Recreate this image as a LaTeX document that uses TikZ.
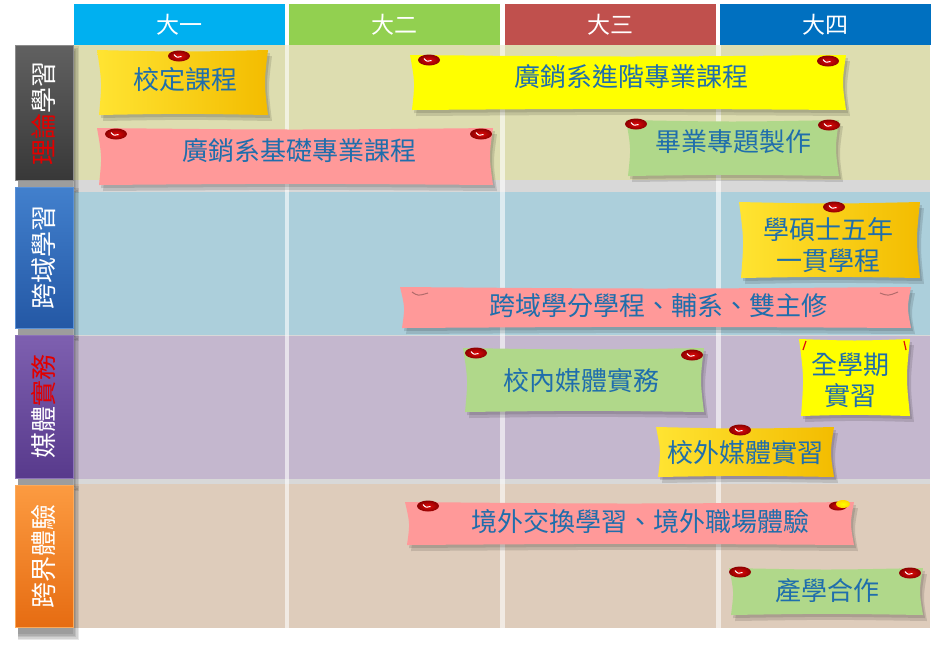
\documentclass[tikz,border=0pt]{standalone}
\usepackage{fontspec}
\newfontfamily\cjk{Noto Sans CJK TC}
\definecolor{hcyan}{RGB}{0,176,240}
\definecolor{hgreen}{RGB}{146,208,80}
\definecolor{hred}{RGB}{192,80,77}
\definecolor{hblue}{RGB}{0,112,192}
\definecolor{rowa}{RGB}{221,221,176}
\definecolor{rowb}{RGB}{172,207,219}
\definecolor{rowc}{RGB}{196,183,206}
\definecolor{rowd}{RGB}{222,204,187}
\definecolor{gapgray}{RGB}{216,216,216}
\definecolor{txtblue}{RGB}{31,110,172}
\definecolor{npink}{RGB}{255,153,153}
\definecolor{ngreen}{RGB}{176,216,138}
\definecolor{nyellow}{RGB}{255,255,0}
\definecolor{goldA}{RGB}{255,228,50}
\definecolor{goldB}{RGB}{243,188,0}
\definecolor{labred}{RGB}{225,0,0}
\definecolor{pinred}{RGB}{225,10,10}
\definecolor{pindark}{RGB}{140,0,0}
\tikzset{
  hdr/.style={inner sep=0pt, minimum width=211pt, minimum height=41pt, text=white, font=\cjk\fontsize{23}{23}\selectfont},
  labtxt/.style={rotate=90, text=white, inner sep=0pt, font=\cjk\fontsize{26}{26}\selectfont},
  notetxt/.style={text=txtblue, inner sep=0pt, align=center, font=\cjk\fontsize{26}{31}\selectfont},
  goldfill/.style={left color=goldA, right color=goldB},
  pinball/.style={inner color=pinred, outer color=pindark},
}
\def\stickpath#1#2#3#4{(#1,#2) .. controls ({(#1+#3)/2},{#2+2}) .. (#3,#2) .. controls ({#3-4},{(#2+#4)/2}) .. (#3,#4) .. controls ({(#1+#3)/2},{#4-1.5}) .. ({#1+2},#4) .. controls ({#1+5},{(#2+#4)/2}) .. (#1,#2) -- cycle}
\newcommand\stick[5]{%
  \fill[black,opacity=.12,xshift=2pt,yshift=-3pt] \stickpath{#1}{#2}{#3}{#4};
  \fill[black,opacity=.12,xshift=4pt,yshift=-6pt] \stickpath{#1}{#2}{#3}{#4};
  \path[#5] \stickpath{#1}{#2}{#3}{#4};}
\newcommand\pin[2]{%
  \shade[pinball] (#1,#2) ellipse [x radius=11, y radius=5.5];
  \draw[white, line width=1pt] ({#1-5},{#2-1.5}) .. controls ({#1-2.5},{#2+1.5}) .. ({#1+2.5},{#2+0.5});}
\newcommand\labshadow[4]{\foreach \s in {0,1.5,3,4.5,6}{\fill[black,opacity=0.09] ({#1+3},{#2-\s+7}) rectangle ({#3+\s},{#4+\s+7});}}
\begin{document}
\begin{tikzpicture}[x=1pt,y=-1pt]
\useasboundingbox (0,0) rectangle (932,654);
\fill[white] (0,0) rectangle (932,654);
% header
\node[hdr, fill=hcyan]  (h1) at (179.5,24.5) {大一};
\node[hdr, fill=hgreen] (h2) at (394.5,24.5) {大二};
\node[hdr, fill=hred]   (h3) at (610.5,24.5) {大三};
\node[hdr, fill=hblue]  (h4) at (825.5,24.5) {大四};
% row bands
\fill[gapgray] (74,45) rectangle (930,628);
\fill[rowa] (74,45) rectangle (930,180);
\fill[rowb] (74,192) rectangle (930,335);
\fill[rowc] (74,336) rectangle (930,479);
\fill[rowd] (74,484) rectangle (930,628);
\foreach \a/\b in {285/289, 500/505, 716/721}{\fill[white,opacity=.6] (\a,45) rectangle (\b,628);}
% label shadows
\labshadow{15}{45}{73}{180}
\labshadow{15}{187}{73}{328}
\labshadow{15}{335}{73}{478}
\labshadow{15}{485}{73}{627}
% labels
\shade[top color=black!62, bottom color=black!78, draw=black!45, line width=1pt] (15,45) rectangle (73,180);
\shade[top color={rgb,255:red,66;green,128;blue,205}, bottom color={rgb,255:red,36;green,88;blue,165}, draw={rgb,255:red,90;green,145;blue,215}, line width=1pt] (15,187) rectangle (73,328);
\shade[top color={rgb,255:red,126;green,96;blue,176}, bottom color={rgb,255:red,88;green,58;blue,140}, draw={rgb,255:red,140;green,115;blue,185}, line width=1pt] (15,335) rectangle (73,478);
\shade[top color={rgb,255:red,252;green,155;blue,65}, bottom color={rgb,255:red,230;green,108;blue,18}, draw={rgb,255:red,252;green,170;blue,90}, line width=1pt] (15,485) rectangle (73,627);
\node[labtxt] (l1) at (44,113) {{\color{labred}理論}學習};
\node[labtxt] (l2) at (44,257) {跨域學習};
\node[labtxt] (l3) at (44,406) {媒體{\color{labred}實務}};
\node[labtxt] (l4) at (44,556) {跨界體驗};
% notes
\stick{97}{50}{268}{115}{goldfill}
\stick{410}{55}{846}{110}{fill=nyellow}
\stick{97}{128}{493}{185}{fill=npink}
\stick{626}{120}{839}{176}{fill=ngreen}
\stick{739}{202}{920}{278}{goldfill}
\stick{400}{287}{911}{328}{fill=npink}
\stick{463}{348}{704}{412}{fill=ngreen}
\stick{799}{339}{910}{416}{fill=nyellow}
\stick{656}{427}{834}{477}{goldfill}
\stick{405}{502}{854}{545}{fill=npink}
\stick{729}{568}{923}{615}{fill=ngreen}
% pins
\pin{179}{56}
\pin{429}{60}\pin{828}{61}
\pin{116}{134}\pin{481}{134}
\pin{636}{124}\pin{829}{125}
\pin{834}{207}
\draw[npink!70!black, line width=1pt] (412,292) .. controls (418,296) .. (428,293);
\draw[npink!70!black, line width=1pt] (880,293) .. controls (888,296) .. (898,292);
\pin{476}{353}\pin{692}{355}
\draw[pinred, line width=1.2pt] (806,341) -- (803,350);
\draw[pinred, line width=1.2pt] (904,341) -- (906,350);
\pin{740}{430}
\pin{428}{506}
\shade[pinball] (838,506) ellipse [x radius=9, y radius=4.5];
\shade[inner color=yellow, outer color=yellow!70!orange] (843,504) ellipse [x radius=7, y radius=4];
\pin{740}{572}\pin{910}{573}
% note texts
\node[notetxt] (n1) at (185,80) {校定課程};
\node[notetxt] (n2) at (631,77) {廣銷系進階專業課程};
\node[notetxt] (n3) at (299,151) {廣銷系基礎專業課程};
\node[notetxt] (n4) at (733,142) {畢業專題製作};
\node[notetxt] (n5) at (828,245) {學碩士五年\\一貫學程};
\node[notetxt] (n6) at (658,306) {跨域學分學程、輔系、雙主修};
\node[notetxt] (n7) at (581,381) {校內媒體實務};
\node[notetxt] (n8) at (850,380) {全學期\\實習};
\node[notetxt] (n9) at (745,453) {校外媒體實習};
\node[notetxt] (n10) at (640,522) {境外交換學習、境外職場體驗};
\node[notetxt] (n11) at (827,591) {產學合作};
\end{tikzpicture}
\end{document}
